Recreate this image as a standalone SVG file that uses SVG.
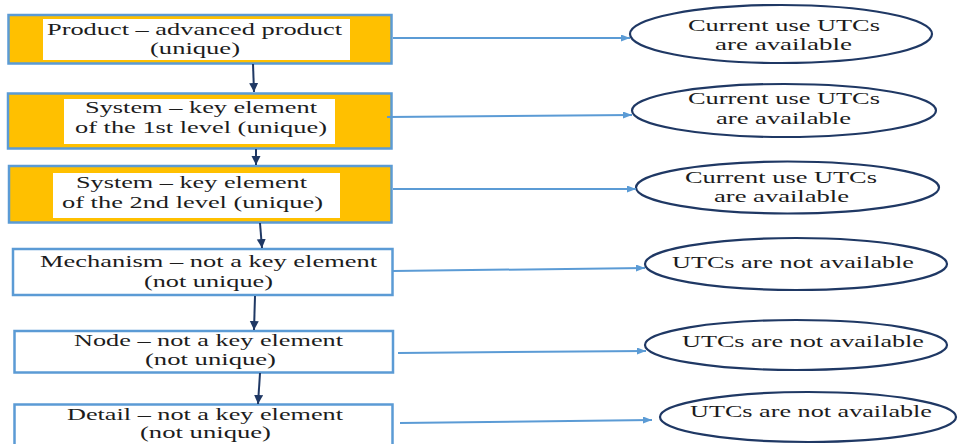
<svg xmlns="http://www.w3.org/2000/svg" width="959" height="444" viewBox="0 0 959 444">
  <style>
    .box { stroke: #5b9bd5; stroke-width: 2.5; }
    .key { fill: #ffc000; }
    .plain { fill: #ffffff; }
    .pad { fill: #ffffff; stroke: none; }
    .oval { fill: #ffffff; stroke: #1f3864; stroke-width: 2.2; }
    .t { font-family: "Liberation Serif", "Times New Roman", serif; font-size: 17px; fill: #1c1c1c; }
    .down { stroke: #1f3864; stroke-width: 2; fill: none; marker-end: url(#headDark); }
    .side { stroke: #5b9bd5; stroke-width: 2; fill: none; marker-end: url(#headLight); }
  </style>
  <defs>
    <marker id="headDark" markerUnits="userSpaceOnUse" markerWidth="10" markerHeight="10" refX="9" refY="4.5" orient="auto">
      <path d="M0,0 L9,4.5 L0,9 z" fill="#1f3864"/>
    </marker>
    <marker id="headLight" markerUnits="userSpaceOnUse" markerWidth="10" markerHeight="8" refX="9" refY="3.5" orient="auto">
      <path d="M0,0 L9,3.5 L0,7 z" fill="#5b9bd5"/>
    </marker>
  </defs>
  <rect width="959" height="444" fill="#ffffff"/>

  <!-- Hierarchy levels -->
  <g id="product" font-family="Liberation Serif, serif">
    <rect class="box key" x="8.5" y="15" width="383" height="48.5"/>
    <rect class="pad" x="43" y="19" width="307" height="41"/>
    <text class="t" x="47" y="35" textLength="295" lengthAdjust="spacingAndGlyphs">Product – advanced product</text>
    <text class="t" x="150" y="54" textLength="90" lengthAdjust="spacingAndGlyphs">(unique)</text>
  </g>
  <g id="system1">
    <rect class="box key" x="8" y="93.5" width="383.5" height="55"/>
    <rect class="pad" x="64" y="99" width="271" height="45"/>
    <text class="t" x="85" y="113" textLength="232" lengthAdjust="spacingAndGlyphs">System – key element</text>
    <text class="t" x="75" y="133" textLength="252" lengthAdjust="spacingAndGlyphs">of the 1st level (unique)</text>
  </g>
  <g id="system2">
    <rect class="box key" x="9" y="166" width="382.5" height="56.5"/>
    <rect class="pad" x="53" y="173" width="287" height="45"/>
    <text class="t" x="76" y="188" textLength="231" lengthAdjust="spacingAndGlyphs">System – key element</text>
    <text class="t" x="62" y="208" textLength="261" lengthAdjust="spacingAndGlyphs">of the 2nd level (unique)</text>
  </g>
  <g id="mechanism">
    <rect class="box plain" x="13" y="249" width="379.5" height="46"/>
    <text class="t" x="40" y="267" textLength="337" lengthAdjust="spacingAndGlyphs">Mechanism – not a key element</text>
    <text class="t" x="144" y="287" textLength="129" lengthAdjust="spacingAndGlyphs">(not unique)</text>
  </g>
  <g id="node">
    <rect class="box plain" x="14.5" y="331" width="378.5" height="41.5"/>
    <text class="t" x="74" y="346" textLength="269" lengthAdjust="spacingAndGlyphs">Node – not a key element</text>
    <text class="t" x="145" y="365" textLength="131" lengthAdjust="spacingAndGlyphs">(not unique)</text>
  </g>
  <g id="detail">
    <rect class="box plain" x="14.5" y="404.5" width="378" height="50"/>
    <text class="t" x="67" y="420" textLength="276" lengthAdjust="spacingAndGlyphs">Detail – not a key element</text>
    <text class="t" x="140" y="438" textLength="131" lengthAdjust="spacingAndGlyphs">(not unique)</text>
  </g>

  <!-- UTC availability -->
  <g id="utc1">
    <ellipse class="oval" cx="781" cy="34" rx="151" ry="29"/>
    <text class="t" x="688" y="31" textLength="192" lengthAdjust="spacingAndGlyphs">Current use UTCs</text>
    <text class="t" x="715" y="50" textLength="137" lengthAdjust="spacingAndGlyphs">are available</text>
  </g>
  <g id="utc2">
    <ellipse class="oval" cx="784" cy="110.5" rx="152" ry="26.5"/>
    <text class="t" x="688" y="104" textLength="192" lengthAdjust="spacingAndGlyphs">Current use UTCs</text>
    <text class="t" x="716" y="124" textLength="135" lengthAdjust="spacingAndGlyphs">are available</text>
  </g>
  <g id="utc3">
    <ellipse class="oval" cx="787.5" cy="187.5" rx="151.5" ry="26"/>
    <text class="t" x="685" y="183" textLength="192" lengthAdjust="spacingAndGlyphs">Current use UTCs</text>
    <text class="t" x="714" y="202" textLength="135" lengthAdjust="spacingAndGlyphs">are available</text>
  </g>
  <g id="utc4">
    <ellipse class="oval" cx="796" cy="264" rx="151" ry="26"/>
    <text class="t" x="672" y="268" textLength="242" lengthAdjust="spacingAndGlyphs">UTCs are not available</text>
  </g>
  <g id="utc5">
    <ellipse class="oval" cx="796" cy="345" rx="151" ry="25"/>
    <text class="t" x="682" y="347" textLength="242" lengthAdjust="spacingAndGlyphs">UTCs are not available</text>
  </g>
  <g id="utc6">
    <ellipse class="oval" cx="808" cy="417" rx="148" ry="25"/>
    <text class="t" x="690" y="417" textLength="242" lengthAdjust="spacingAndGlyphs">UTCs are not available</text>
  </g>

  <!-- Connectors -->
  <g id="connectors">
    <line class="down" x1="253" y1="64" x2="254" y2="92"/>
    <line class="down" x1="256" y1="149" x2="256" y2="165"/>
    <line class="down" x1="260" y1="223" x2="262" y2="248"/>
    <line class="down" x1="255" y1="296" x2="254" y2="330"/>
    <line class="down" x1="260" y1="373" x2="258" y2="404"/>

    <line class="side" x1="393" y1="38" x2="630" y2="38"/>
    <line class="side" x1="387" y1="117" x2="632" y2="115"/>
    <line class="side" x1="393" y1="189" x2="636" y2="189"/>
    <line class="side" x1="393" y1="271" x2="645" y2="268"/>
    <line class="side" x1="398" y1="353" x2="646" y2="351"/>
    <line class="side" x1="400" y1="423" x2="652" y2="420"/>
  </g>
</svg>
